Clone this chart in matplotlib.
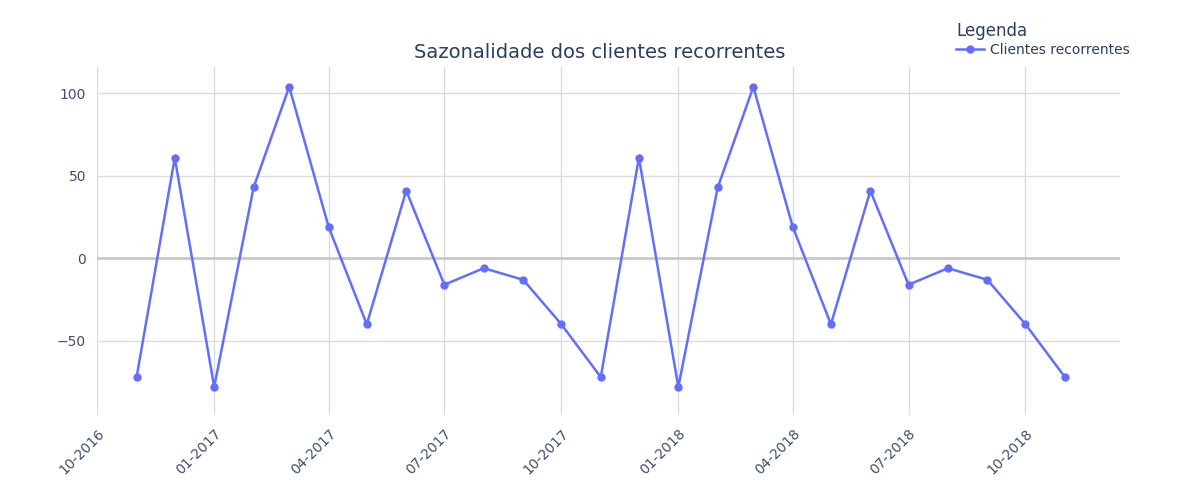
import numpy as np
import pandas as pd
import matplotlib.pyplot as plt
import matplotlib.dates as mdates

months = pd.date_range("2016-11-01", "2018-11-01", freq="MS")
clientes = [-72, 61, -78, 43, 104, 19, -40, 41, -16, -6, -13, -40,
            -72, 61, -78, 43, 104, 19, -40, 41, -16, -6, -13, -40, -72]

text_color = "#2a3f5f"
tick_color = "#3f4f6a"
fig = plt.figure(figsize=(12, 5), dpi=100)
ax = fig.add_axes([0.081, 0.17, 0.852, 0.696])

ax.plot(months, clientes, color="#636efa", linewidth=1.8, marker="o",
        markersize=5, label="Clientes recorrentes", zorder=3)

ax.set_xlim(pd.Timestamp("2016-10-01"), pd.Timestamp("2018-12-14"))
ax.set_ylim(-95, 116)
ax.set_yticks([-50, 0, 50, 100])
ax.set_yticklabels(["\u221250", "0", "50", "100"])
ax.xaxis.set_major_locator(mdates.MonthLocator(bymonth=[1, 4, 7, 10]))
ax.xaxis.set_major_formatter(mdates.DateFormatter("%m-%Y"))
plt.setp(ax.get_xticklabels(), rotation=45, ha="right", rotation_mode="anchor")

ax.grid(True, color="#dcdcdc", linewidth=1)
ax.axhline(0, color="#c8c8c8", linewidth=2, zorder=2)
for s in ax.spines.values():
    s.set_visible(False)
ax.tick_params(length=0, colors=tick_color, labelsize=10, pad=8)

fig.text(0.5, 0.885, "Sazonalidade dos clientes recorrentes", ha="center",
         fontsize=14, color=text_color)
leg = ax.legend(loc="upper left", bbox_to_anchor=(0.835, 1.145), frameon=False,
                title="Legenda", fontsize=10, title_fontsize=12,
                handlelength=2, borderaxespad=0, handletextpad=0.4,
                labelspacing=0.2)
leg._legend_box.align = "left"
for t in leg.get_texts():
    t.set_color(text_color)
leg.get_title().set_color(text_color)

fig.savefig("out.png")
